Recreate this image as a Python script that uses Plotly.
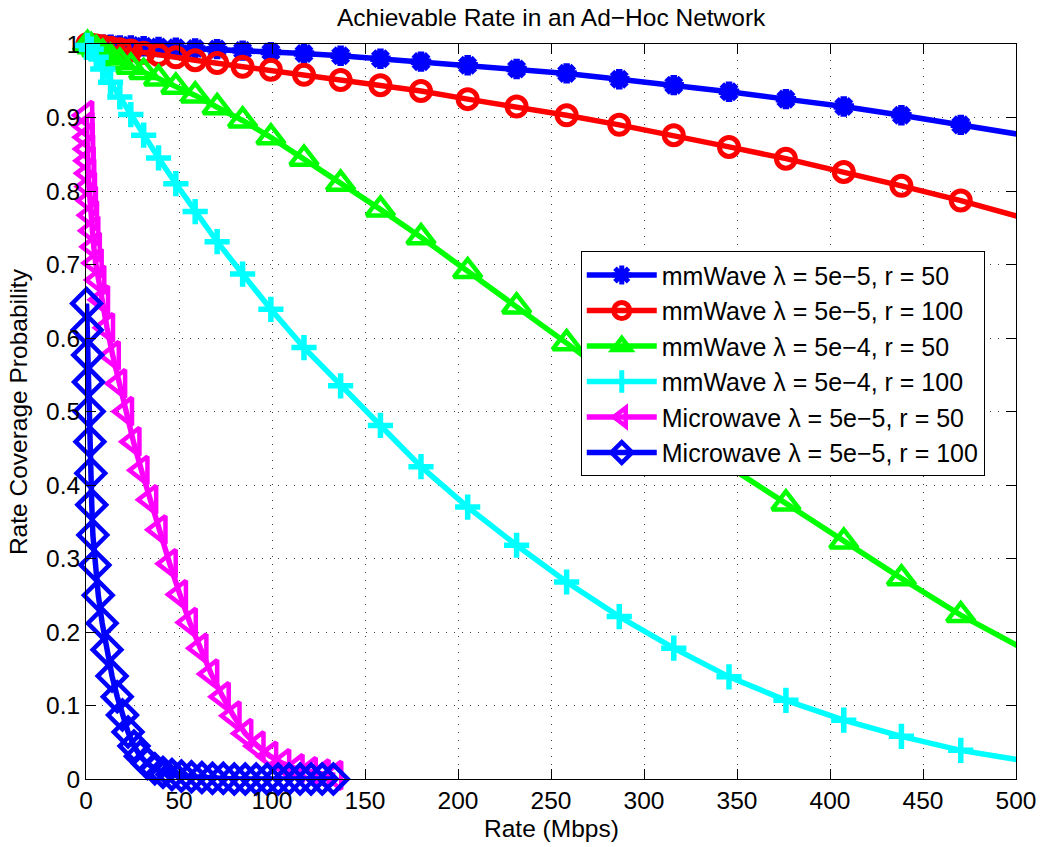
import plotly.graph_objects as go

# ---- data ----
mm_rate = [0.8, 2.8, 5.5, 9.0, 13.2, 18.2, 24.1, 31.0, 39.0, 48.3, 58.7, 70.5, 84.2, 99.4,
           117.2, 136.9, 158.3, 180.1, 205.2, 231.5, 258.4, 286.7, 316.0, 345.7, 376.3,
           407.4, 438.4, 470.3, 501.8]
mm_l5e5_r50 = [1.000, 1.000, 0.999, 0.999, 0.999, 0.998, 0.998, 0.997, 0.996, 0.995, 0.994,
               0.993, 0.991, 0.989, 0.987, 0.984, 0.980, 0.976, 0.971, 0.966, 0.960, 0.952,
               0.944, 0.935, 0.925, 0.915, 0.903, 0.890, 0.877]
mm_l5e5_r100 = [1.000, 0.999, 0.998, 0.997, 0.995, 0.993, 0.991, 0.988, 0.985, 0.982, 0.978,
                0.974, 0.969, 0.965, 0.958, 0.951, 0.944, 0.936, 0.925, 0.915, 0.903, 0.890,
                0.876, 0.860, 0.844, 0.826, 0.807, 0.787, 0.765]
mm_l5e4_r50 = [1.000, 0.997, 0.993, 0.988, 0.982, 0.976, 0.969, 0.962, 0.953, 0.942, 0.930,
               0.914, 0.896, 0.873, 0.844, 0.810, 0.775, 0.737, 0.691, 0.643, 0.593, 0.539,
               0.482, 0.425, 0.375, 0.323, 0.273, 0.223, 0.180]
mm_l5e4_r100 = [0.998, 0.993, 0.982, 0.966, 0.948, 0.928, 0.904, 0.876, 0.845, 0.810, 0.772,
                0.731, 0.687, 0.639, 0.587, 0.535, 0.481, 0.425, 0.370, 0.318, 0.268, 0.221,
                0.178, 0.139, 0.107, 0.080, 0.058, 0.039, 0.026]

mw_r50_rate = [0.1, 0.2, 0.4, 0.6, 0.9, 1.2, 1.6, 2.1, 2.7, 3.4, 4.2, 5.2, 6.6, 8.6, 11.3,
               14.4, 17.8, 21.5, 25.5, 29.8, 34.5, 39.5, 45.0, 50.5, 55.8, 61.5, 67.3, 73.5,
               79.3, 85.6, 92.2, 99.0, 106.0, 113.2, 120.3, 127.2, 134.0]
mw_r50_cov = [0.903, 0.888, 0.873, 0.857, 0.841, 0.824, 0.806, 0.787, 0.767, 0.746, 0.724,
              0.702, 0.679, 0.652, 0.614, 0.576, 0.538, 0.500, 0.459, 0.420, 0.380, 0.339,
              0.293, 0.251, 0.213, 0.178, 0.143, 0.112, 0.086, 0.062, 0.045, 0.031, 0.021,
              0.014, 0.010, 0.007, 0.005]

mw_r100_rate = [0.3, 0.6, 0.9, 1.3, 1.7, 2.1, 2.6, 3.1, 3.7, 4.8, 6.6, 8.7, 11.3, 14.0, 16.8,
                19.6, 22.6, 25.8, 29.2, 33.0, 37.0, 41.4, 46.2, 51.3, 56.7, 62.3, 68.0, 73.8,
                79.7, 85.6, 91.5, 97.4, 103.3, 109.2, 115.1, 121.0, 127.0, 133.0]
mw_r100_cov = [0.647, 0.611, 0.577, 0.540, 0.500, 0.459, 0.416, 0.373, 0.332, 0.291, 0.250,
               0.212, 0.176, 0.140, 0.112, 0.087, 0.064, 0.045, 0.031, 0.021, 0.014, 0.009,
               0.006, 0.004, 0.003, 0.002, 0.001, 0.001, 0.000, 0.000, 0.000, 0.000, 0.000,
               0.000, 0.000, 0.000, 0.000, 0.000]

labels = ["mmWave λ = 5e−5, r = 50", "mmWave λ = 5e−5, r = 100",
          "mmWave λ = 5e−4, r = 50", "mmWave λ = 5e−4, r = 100",
          "Microwave λ = 5e−5, r = 50", "Microwave λ = 5e−5, r = 100"]
x_ticks = [0, 50, 100, 150, 200, 250, 300, 350, 400, 450, 500]
y_ticks = [0, 0.1, 0.2, 0.3, 0.4, 0.5, 0.6, 0.7, 0.8, 0.9, 1]

XMAX = 500
FONT = "Liberation Sans, Arial, Helvetica, sans-serif"
FS = 24.5

series = [
    (mm_rate, mm_l5e5_r50, "#0000ff", "asterisk-open", 17, 6.5),
    (mm_rate, mm_l5e5_r100, "#ff0000", "circle-open", 19, 5.0),
    (mm_rate, mm_l5e4_r50, "#00ff00", "triangle-up-open", 24, 4.5),
    (mm_rate, mm_l5e4_r100, "#00ffff", "cross-thin-open", 18, 5.5),
    (mw_r50_rate, mw_r50_cov, "#ff00ff", "triangle-left-open", 24, 4.5),
    (mw_r100_rate, mw_r100_cov, "#0000ff", "diamond-open", 22, 4.5),
]

fig = go.Figure()
for i, (xs, ys, col, sym, msz, mlw) in enumerate(series):
    sizes = [msz if x <= XMAX else 0 for x in xs]
    fig.add_trace(go.Scatter(
        x=xs, y=ys, mode="lines+markers", name=labels[i],
        line=dict(color=col, width=5.5),
        marker=dict(symbol=sym, size=sizes, color=col, opacity=1,
                    line=dict(color=col, width=mlw)),
        cliponaxis=False,
    ))

axis_common = dict(
    showline=True, linecolor="black", linewidth=1, mirror="ticks",
    ticks="inside", ticklen=10, tickcolor="black", tickwidth=1,
    showgrid=True, gridcolor="rgba(0,0,0,0.75)", gridwidth=1, griddash="1px,7px",
    zeroline=False, tickfont=dict(family=FONT, size=FS, color="black"),
)
fig.update_xaxes(range=[0, 500], tickvals=x_ticks, **axis_common)
fig.update_yaxes(range=[0, 1], tickvals=y_ticks, ticktext=[f"{v:g}" for v in y_ticks], **axis_common)

fig.update_layout(
    width=1048, height=847,
    margin=dict(l=86, r=28, t=44, b=68, pad=0),
    paper_bgcolor="white", plot_bgcolor="white",
    font=dict(family=FONT, size=FS, color="black"),
    showlegend=True,
    legend=dict(x=0.532, y=0.718, xanchor="left", yanchor="top",
                bordercolor="black", borderwidth=1, bgcolor="white",
                font=dict(family=FONT, size=25, color="black"),
                itemwidth=70, tracegroupgap=0, itemsizing="trace"),
    annotations=[
        dict(text="Achievable Rate in an Ad−Hoc Network", xref="paper", yref="paper",
             x=0.5, y=1.0354, xanchor="center", yanchor="middle", showarrow=False,
             font=dict(family=FONT, size=FS, color="black")),
        dict(text="Rate (Mbps)", xref="paper", yref="paper",
             x=0.5, y=-0.0667, xanchor="center", yanchor="middle", showarrow=False,
             font=dict(family=FONT, size=FS, color="black")),
        dict(text="Rate Coverage Probability", xref="paper", yref="paper",
             x=-0.0725, y=0.5, xanchor="center", yanchor="middle", showarrow=False,
             textangle=-90, font=dict(family=FONT, size=FS, color="black")),
    ],
)

fig.write_html("out.html")
